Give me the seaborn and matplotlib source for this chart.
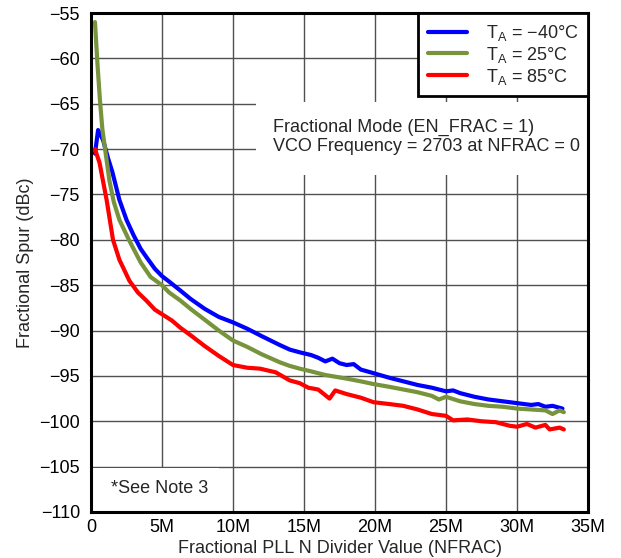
import numpy as np
import pandas as pd
import matplotlib
matplotlib.use("Agg")
import matplotlib.pyplot as plt
from matplotlib.patches import Rectangle
import seaborn as sns

# ---- data (x in millions) ----
x_m40 = [0.28, 0.5, 0.85, 1.2, 1.5, 2.0, 2.5, 3.0, 3.5, 3.9, 4.5, 5.0, 5.5, 6.3, 7.0, 8.0, 9.0, 10.0,
         11.0, 12.0, 13.3, 14.0, 14.7, 15.5, 16.0, 16.5, 17.0, 17.5, 18.0, 18.5, 19.0, 19.9, 21.0,
         22.0, 23.0, 24.0, 25.0, 25.5, 26.0, 27.0, 28.0, 29.0, 30.0, 31.0, 31.5, 32.0, 32.5, 33.2]
y_m40 = [-70.5, -67.9, -69.0, -71.0, -72.5, -75.6, -77.8, -79.5, -81.0, -81.9, -83.2, -84.0, -84.6,
         -85.6, -86.5, -87.6, -88.5, -89.1, -89.8, -90.6, -91.6, -92.1, -92.4, -92.7, -93.0, -93.4,
         -93.1, -93.6, -93.8, -93.7, -94.3, -94.7, -95.2, -95.6, -96.0, -96.3, -96.7, -96.6, -96.9,
         -97.3, -97.6, -97.8, -98.0, -98.2, -98.1, -98.4, -98.3, -98.6]

x_25 = [0.28, 0.45, 0.63, 0.8, 1.0, 1.3, 1.6, 2.0, 2.7, 3.5, 4.2, 5.0, 5.5, 6.3, 7.0, 8.0, 9.0, 10.0,
        11.0, 12.0, 13.3, 14.0, 14.7, 15.5, 16.5, 18.0, 19.0, 19.9, 21.0, 22.0, 23.0, 24.0, 24.5,
        25.0, 26.0, 27.0, 28.0, 29.0, 30.0, 31.0, 32.0, 32.5, 33.0, 33.3]
y_25 = [-56.0, -60.5, -64.6, -67.8, -70.1, -73.5, -75.8, -77.8, -80.1, -82.5, -84.1, -85.0, -85.8,
        -86.7, -87.6, -88.8, -90.0, -91.1, -91.8, -92.6, -93.5, -93.9, -94.2, -94.5, -94.9, -95.3,
        -95.6, -95.9, -96.2, -96.5, -96.8, -97.2, -97.6, -97.3, -97.8, -98.1, -98.3, -98.4, -98.6,
        -98.7, -98.8, -99.2, -98.8, -99.0]

x_85 = [0.28, 0.6, 1.1, 1.55, 2.0, 2.7, 3.3, 3.9, 4.5, 5.1, 5.7, 6.3, 7.0, 8.0, 9.0, 10.0, 11.0,
        11.9, 13.0, 14.0, 14.7, 15.3, 16.0, 16.8, 17.2, 18.0, 19.0, 19.9, 21.0, 22.0, 23.0, 24.0,
        25.0, 25.5, 26.5, 27.5, 28.5, 29.5, 30.0, 30.7, 31.3, 32.0, 32.3, 33.0, 33.3]
y_85 = [-70.0, -71.5, -75.6, -80.0, -82.2, -84.5, -85.8, -86.7, -87.7, -88.3, -88.9, -89.7, -90.5,
        -91.7, -92.8, -93.8, -94.1, -94.2, -94.6, -95.5, -95.8, -96.3, -96.5, -97.5, -96.6, -97.0,
        -97.4, -97.9, -98.1, -98.3, -98.7, -99.2, -99.4, -99.9, -99.8, -100.0, -100.1, -100.5,
        -100.6, -100.3, -100.7, -100.4, -100.9, -100.7, -100.9]

series_labels = [r"T$_\mathregular{A}$ = −40°C", r"T$_\mathregular{A}$ = 25°C", r"T$_\mathregular{A}$ = 85°C"]
colors = ["#0000FF", "#77933C", "#FF0000"]

x_ticks = [0, 5, 10, 15, 20, 25, 30, 35]
x_ticklabels = ["0", "5M", "10M", "15M", "20M", "25M", "30M", "35M"]
y_ticks = list(range(-110, -54, 5))

frames = []
for xs, ys, lab in [(x_m40, y_m40, series_labels[0]), (x_25, y_25, series_labels[1]), (x_85, y_85, series_labels[2])]:
    frames.append(pd.DataFrame({"x": xs, "y": ys, "series": lab}))
df = pd.concat(frames, ignore_index=True)

sns.set_style("white")
plt.rcParams["font.family"] = ["Liberation Sans", "DejaVu Sans"]
plt.rcParams["mathtext.fontset"] = "custom"
plt.rcParams["mathtext.rm"] = "Liberation Sans"

FS = 13

fig = plt.figure(figsize=(6.21, 5.58), dpi=100)
ax = fig.add_axes([91/621, 1-512/558, 497/621, 499/558])

sns.lineplot(data=df, x="x", y="y", hue="series", hue_order=series_labels,
             palette=colors, linewidth=3, ax=ax, sort=False, estimator=None, legend=True)

ax.set_xlim(0, 35)
ax.set_ylim(-110, -55)
ax.set_xticks(x_ticks)
ax.set_xticklabels(x_ticklabels)
ax.set_yticks(y_ticks)
ax.set_yticklabels([f"−{abs(v)}" for v in y_ticks])
ax.tick_params(axis="both", length=0, labelsize=FS, colors="black")
ax.tick_params(axis="y", pad=8)
ax.tick_params(axis="x", pad=5)
ax.grid(True, color="#505050", linewidth=1)
ax.set_axisbelow(True)
for s in ax.spines.values():
    s.set_color("black")
    s.set_linewidth(2.2)

ax.set_xlabel("Fractional PLL N Divider Value (NFRAC)", fontsize=FS, labelpad=3)
ax.set_ylabel("Fractional Spur (dBc)", fontsize=FS, labelpad=4)

# white boxes covering grid
ax.add_patch(Rectangle((11.6, -72.9), 23.4, 8.05, facecolor="white", edgecolor="none", zorder=1))
ax.add_patch(Rectangle((0, -110), 9.0, 4.88, facecolor="white", edgecolor="none", zorder=1))
ax.text(12.8, -68.7, "Fractional Mode (EN_FRAC = 1)\nVCO Frequency = 2703 at NFRAC = 0",
        fontsize=FS, va="center", ha="left", linespacing=1.15, zorder=3)
ax.text(1.4, -107.4, "*See Note 3", fontsize=FS, va="center", ha="left", zorder=3)

leg = ax.legend(loc="upper right", borderaxespad=0, fancybox=False, fontsize=FS,
                handlelength=2.2, handletextpad=1.0, labelspacing=0.1,
                borderpad=0.55, framealpha=1)
leg.get_frame().set_edgecolor("black")
leg.get_frame().set_linewidth(2)
for line in leg.get_lines():
    line.set_linewidth(3)

fig.savefig("out.png", dpi=100)
